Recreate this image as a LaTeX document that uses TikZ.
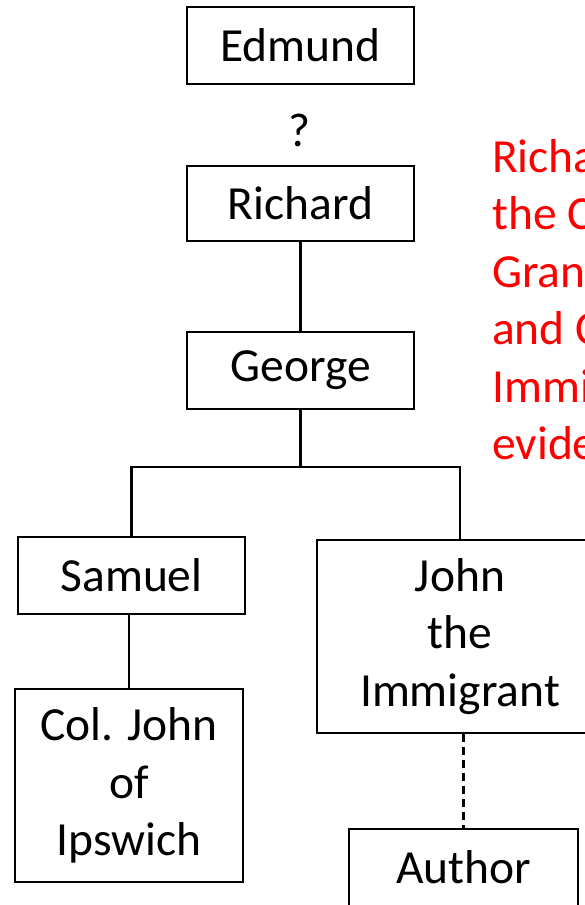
\documentclass[tikz,border=0pt]{standalone}
\usepackage{fontspec}
\setmainfont{Carlito}
\begin{document}
\begin{tikzpicture}[x=1pt,y=-1pt, person/.style={draw,line width=2pt,minimum width=227pt,minimum height=77pt,align=center,inner sep=0pt}]
\tikzset{every node/.style={font=\fontsize{47.5}{57.5}\selectfont}}
%\tikzset{every node/.style={shape=rectangle,
%                            draw,
%                            minimum size=2cm
%                           }}
\useasboundingbox (0,0) rectangle (585,905);
\node[person] (edmund) at (300.5,45.5) {Edmund};
\node (q) at (300,130) {?};
\node[person,minimum height=75pt] (richard) at (300.5,203.5) {Richard};
\node[person] (george) at (300.5,370.5) {George};
\node[person] (samuel) at (131.5,575.5) {Samuel};
\node[person,minimum width=228pt,minimum height=193pt] (coljohn) at (129,785.5) {Col. John\\of\\Ipswich};
\node[person,minimum width=286pt,minimum height=193pt] (john) at (460,636.5) {John\\the\\Immigrant};
\node[person,minimum width=229pt] (author) at (463.5,867.5) {Author};
\node[red,anchor=north west,align=left,inner sep=0pt] (note) at (492,139) {Richa\\the C\\Gran\\and C\\Immi\\evide};
\coordinate (bar) at (300.5,467);
\draw[line width=2.2pt] (richard) -- (george);
\draw[line width=2.2pt] (george.south) -- (bar);
\draw[line width=2.2pt] (samuel.north) |- (bar) -| (john.north);
\draw[line width=2.2pt] (coljohn.north |- samuel.south) -- (coljohn.north);
\draw[line width=2.2pt,dash pattern=on 8pt off 5pt] (author.north |- john.south) -- (author.north);
\end{tikzpicture}
\end{document}
